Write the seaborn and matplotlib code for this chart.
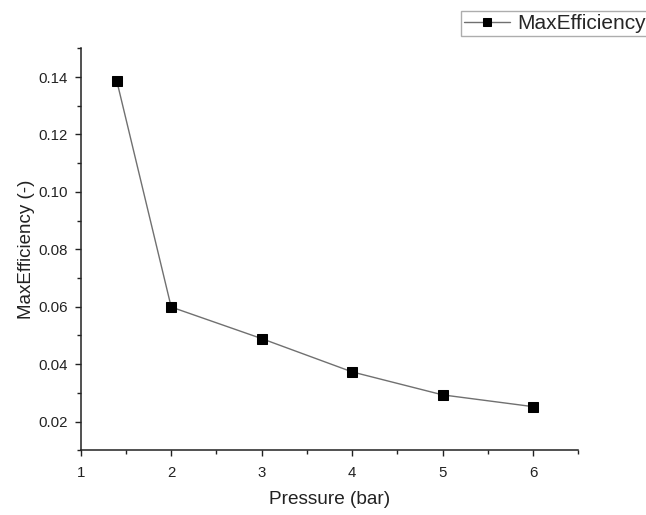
import numpy as np
import pandas as pd
import matplotlib
matplotlib.use('Agg')
import matplotlib.pyplot as plt
from matplotlib.ticker import MultipleLocator
import seaborn as sns

pressure = [1.4, 2, 3, 4, 5, 6]
max_efficiency = [0.1385, 0.0599, 0.0489, 0.0373, 0.0293, 0.0252]

sns.set_style('ticks')
plt.rcParams['font.family'] = ['Liberation Sans', 'DejaVu Sans']

df = pd.DataFrame({'Pressure (bar)': pressure, 'MaxEfficiency': max_efficiency})

fig = plt.figure(figsize=(6.46, 5.15), dpi=100)
ax = fig.add_axes([0.1249, 0.1256, 0.7706, 0.7806])

sns.lineplot(data=df, x='Pressure (bar)', y='MaxEfficiency', ax=ax,
             color='#707070', linewidth=1.0, marker='s', markersize=6.5,
             markerfacecolor='black', markeredgecolor='black',
             label='MaxEfficiency', legend=False)

ax.set_xlim(1, 6.5)
ax.set_ylim(0.01, 0.15)
ax.xaxis.set_major_locator(MultipleLocator(1))
ax.xaxis.set_minor_locator(MultipleLocator(0.5))
ax.yaxis.set_minor_locator(MultipleLocator(0.01))
ax.set_yticks([0.02, 0.04, 0.06, 0.08, 0.10, 0.12, 0.14])
ax.tick_params(which='major', direction='out', length=4.5, width=1, labelsize=10.8,
               color='#222222', labelcolor='#222222')
ax.tick_params(which='minor', direction='out', length=3, width=1, color='#222222')
ax.tick_params(axis='x', which='major', pad=7)
ax.tick_params(axis='y', which='major', pad=4.5)
for s in ['left', 'bottom']:
    ax.spines[s].set_linewidth(1.1)
    ax.spines[s].set_color('#222222')
sns.despine(ax=ax)

ax.set_xlabel('Pressure (bar)', fontsize=13.7, labelpad=8, color='#222222')
ax.set_ylabel('MaxEfficiency (-)', fontsize=13.5, labelpad=3, color='#222222')

h, l = ax.get_legend_handles_labels()
leg = fig.legend(h, l, loc='upper left', bbox_to_anchor=(0.713, 0.979),
                 fontsize=15, frameon=True, fancybox=False, edgecolor='#999999',
                 borderpad=0.15, handlelength=2.2, handletextpad=0.35,
                 borderaxespad=0, markerscale=0.8)
leg.get_frame().set_linewidth(1.0)

fig.savefig('out.png', dpi=100)
